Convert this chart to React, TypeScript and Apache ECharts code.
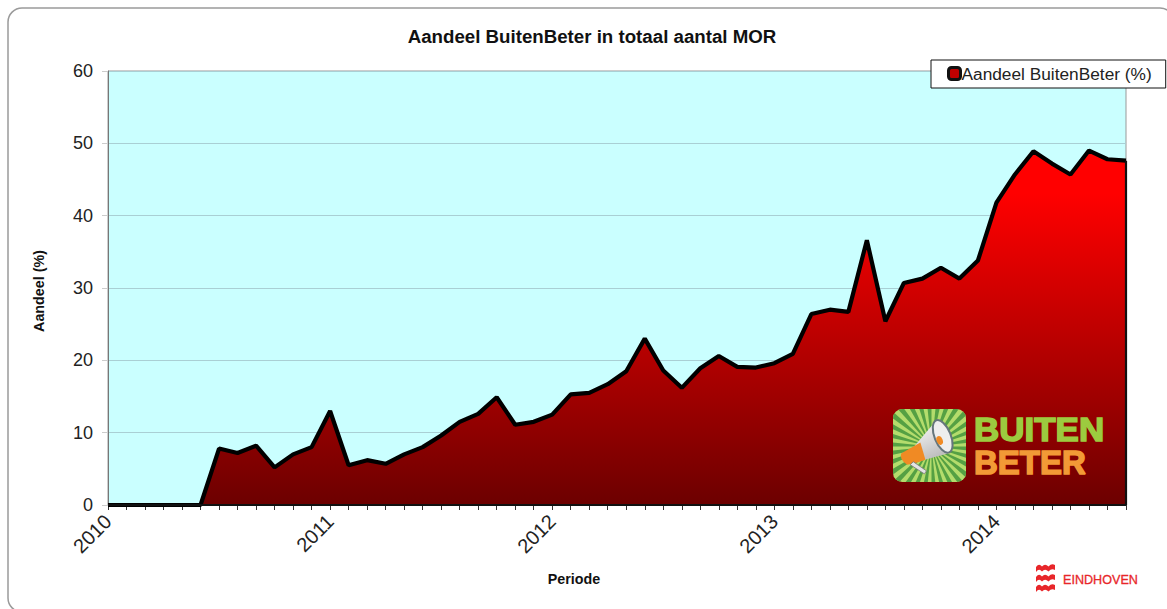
import React, { useEffect, useRef } from "react";
import * as echarts from "echarts";

const years = ["2010", "2011", "2012", "2013", "2014"];
const monthsPerYear = 12;
const lastYearMonths = 8;
const categories: string[] = years.flatMap((y, i) =>
  Array.from({ length: i === years.length - 1 ? lastYearMonths : monthsPerYear }, (_, m) => `${y}-${String(m + 1).padStart(2, "0")}`)
);
const share = [
  0, 0, 0, 0, 0, 0, 7.8, 7.2, 8.2, 5.2, 7, 8,
  13, 5.5, 6.2, 5.7, 7, 8, 9.6, 11.5, 12.6, 14.9, 11.1, 11.5,
  12.5, 15.3, 15.5, 16.7, 18.5, 23, 18.6, 16.2, 18.9, 20.6, 19.1, 19,
  19.6, 20.9, 26.4, 27, 26.7, 36.6, 25.4, 30.7, 31.3, 32.8, 31.3, 33.8,
  41.8, 45.7, 48.9, 47.2, 45.7, 49, 47.8, 47.6,
];
const seriesName = "Aandeel BuitenBeter (%)";
const titleText = "Aandeel BuitenBeter in totaal aantal MOR";
const FONT = "'Liberation Sans', Arial, sans-serif";

const rayCount = 30;
const rays = Array.from({ length: rayCount }, (_, i) => {
  const a = (i * Math.PI * 2) / rayCount;
  const b = a + Math.PI / rayCount;
  const r = 80;
  return `<polygon points="38,37 ${38 + r * Math.cos(a)},${37 + r * Math.sin(a)} ${38 + r * Math.cos(b)},${37 + r * Math.sin(b)}" fill="#55a043"/>`;
}).join("");
const badgeSvg = `<svg xmlns="http://www.w3.org/2000/svg" width="72" height="72" viewBox="0 0 72 72"><defs><clipPath id="c"><rect width="72" height="72" rx="9"/></clipPath><linearGradient id="g" x1="0" y1="0" x2="0.4" y2="1"><stop offset="0" stop-color="#ffffff"/><stop offset="1" stop-color="#bdbdbd"/></linearGradient></defs><g clip-path="url(#c)"><rect width="72" height="72" fill="#b4dc6c"/>${rays}</g><path d="M20 38 L42 12 L54 44 L24 52 Z" fill="url(#g)"/><path d="M20 37 L27 33 L32 50 L23 53 L14 55 Q6 50 8 44 Z" fill="#f08a24"/><path d="M20 52 L33 61 L31 64 L17 55Z" fill="#e4e4e4" stroke="#777" stroke-width="0.8"/><ellipse cx="49" cy="27" rx="8" ry="17" transform="rotate(-22 49 27)" fill="#eeeeee" stroke="#66767c" stroke-width="2"/><ellipse cx="46" cy="31" rx="3" ry="4.5" transform="rotate(-22 46 31)" fill="#f08a24"/></svg>`;
const badge = "data:image/svg+xml;charset=utf-8," + encodeURIComponent(badgeSvg);
const wave = "M0 3 Q3 -1 6 2.5 Q9 -1 12.5 2.5 Q15.5 -1 19 1 L19 6 Q15.5 4 12.5 7.5 Q9 4 6 7.5 Q3 4 0 8 Z";
echarts.graphic.registerShape("wave", echarts.graphic.extendPath(wave, {}) as any);

const lastIndex = categories.length - 1;

export default function App() {
  const ref = useRef<HTMLDivElement>(null);
  useEffect(() => {
    document.body.style.margin = "0";
    const chart = echarts.init(ref.current!, null, { renderer: "svg" });
    chart.setOption({
      animation: false,
      backgroundColor: "#fff",
      textStyle: { fontFamily: FONT },
      title: {
        text: titleText,
        left: 587,
        top: 22,
        textAlign: "center",
        textStyle: { fontFamily: FONT, fontSize: 18.7, fontWeight: "bold", color: "#111" },
      },
      legend: {
        show: true,
        left: 931,
        top: 60,
        z: 20,
        padding: [5, 14, 6, 16],
        backgroundColor: "#fff",
        borderColor: "#111",
        borderWidth: 1,
        borderRadius: 0,
        itemWidth: 12,
        itemHeight: 12,
        itemGap: 0,
        icon: "roundRect",
        textStyle: { fontFamily: FONT, fontSize: 17.3, color: "#222", padding: [0, 0, 0, -4] },
        data: [{ name: seriesName, itemStyle: { color: "#c00000", borderColor: "#111", borderWidth: 3 } }],
      },
      grid: { left: 108, right: 41, top: 71, bottom: 104, show: true, backgroundColor: "#caffff", borderColor: "#999", borderWidth: 1 },
      xAxis: {
        type: "category",
        data: categories,
        boundaryGap: false,
        name: "Periode",
        nameLocation: "middle",
        nameGap: 67,
        nameTextStyle: { fontFamily: FONT, fontSize: 14.3, fontWeight: "bold", color: "#111", padding: [0, 86, 0, 0] },
        axisLine: { show: true, lineStyle: { color: "#111", width: 1 } },
        axisTick: { show: true, interval: 0, length: 5, lineStyle: { color: "#333" } },
        axisLabel: {
          interval: (i: number) => i % monthsPerYear === 0,
          formatter: (v: string) => v.slice(0, 4),
          rotate: 45,
          margin: 13,
          fontFamily: FONT,
          fontSize: 20,
          color: "#222",
        },
      },
      yAxis: {
        type: "value",
        min: 0,
        max: 60,
        interval: 10,
        name: "Aandeel (%)",
        nameLocation: "middle",
        nameGap: 62,
        nameTextStyle: { fontFamily: FONT, fontSize: 14.3, fontWeight: "bold", color: "#111", padding: [0, 6, 0, 0] },
        axisLine: { show: true, lineStyle: { color: "#777" } },
        axisTick: { show: true, length: 6, lineStyle: { color: "#ccc" } },
        axisLabel: { margin: 15, fontFamily: FONT, fontSize: 18, color: "#222" },
        splitLine: { show: true, lineStyle: { color: "#a9cfd4", width: 1 } },
      },
      series: [
        {
          name: seriesName,
          type: "line",
          data: share,
          symbol: "none",
          smooth: false,
          lineStyle: { color: "#000", width: 4.2, join: "bevel" },
          itemStyle: { color: "#d00000", borderColor: "#111" },
          areaStyle: {
            opacity: 1,
            color: new echarts.graphic.LinearGradient(0, 0, 0, 1, [
              { offset: 0, color: "#ff0000" },
              { offset: 0.12, color: "#ff0000" },
              { offset: 1, color: "#6c0000" },
            ]),
          },
          markLine: {
            silent: true,
            symbol: "none",
            label: { show: false },
            lineStyle: { color: "#111", width: 2.2, type: "solid" },
            data: [
              [{ coord: [categories[lastIndex], 0] }, { coord: [categories[lastIndex], share[lastIndex]] }],
              { yAxis: 0 },
            ],
          },
          z: 3,
        },
      ],
      graphic: [
        { type: "rect", silent: true, z: -1, shape: { x: 8, y: 8, width: 1166, height: 604, r: 14 }, style: { fill: "#fff", stroke: "#9a9a9a", lineWidth: 1.5 } },
        { type: "image", z: 10, style: { image: badge, x: 893, y: 409, width: 73, height: 73 } },
        { type: "text", z: 10, x: 974, y: 429.5, scaleX: 1.06, style: { text: "BUITEN", fill: "#9ccb3f", stroke: "#9ccb3f", lineWidth: 1.5, font: `bold 33px ${FONT}`, verticalAlign: "middle" } },
        { type: "text", z: 10, x: 974, y: 462.5, style: { text: "BETER", fill: "#f29a36", stroke: "#f29a36", lineWidth: 1.5, font: `bold 33px ${FONT}`, verticalAlign: "middle" } },
        { type: "wave", z: 10, x: 1036, y: 564, style: { fill: "#e8262a" } },
        { type: "wave", z: 10, x: 1036, y: 574, style: { fill: "#e8262a" } },
        { type: "wave", z: 10, x: 1036, y: 584, style: { fill: "#e8262a" } },
        { type: "text", z: 10, style: { x: 1063, y: 580, text: "EINDHOVEN", fill: "#e8262a", stroke: "#e8262a", lineWidth: 0.3, font: `12.6px ${FONT}`, verticalAlign: "middle" } },
      ],
    });
    return () => chart.dispose();
  }, []);
  return <div ref={ref} style={{ width: 1167, height: 609 }} />;
}
